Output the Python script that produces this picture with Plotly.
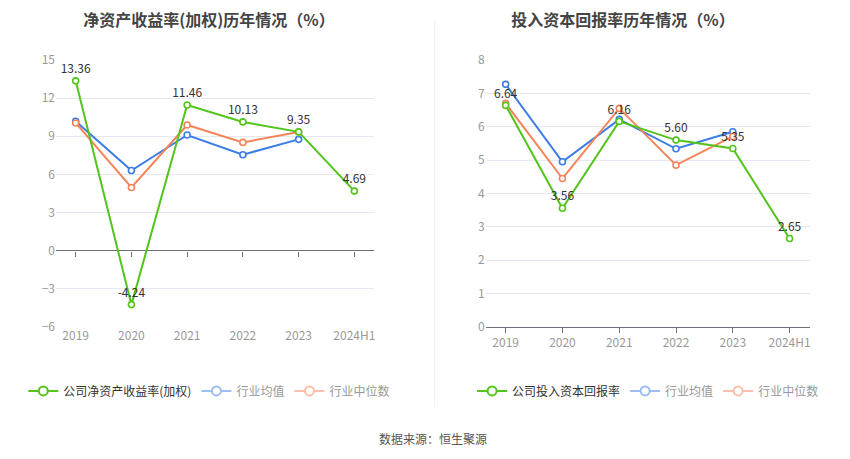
import plotly.graph_objs as go

years = ['2019', '2020', '2021', '2022', '2023', '2024H1']

# 净资产收益率(加权)
roe_company = [13.36, -4.24, 11.46, 10.13, 9.35, 4.69]
roe_avg = [10.18, 6.31, 9.10, 7.55, 8.76]
roe_median = [10.05, 4.97, 9.89, 8.52, 9.34]

# 投入资本回报率
roic_company = [6.64, 3.56, 6.16, 5.60, 5.35, 2.65]
roic_avg = [7.27, 4.95, 6.22, 5.34, 5.85]
roic_median = [6.70, 4.45, 6.55, 4.85, 5.71]

GREEN = '#52C41A'
BLUE = '#3B7CE6'
ORANGE = '#F5845B'
FONT = 'Noto Sans CJK SC'


def line(x, y, color, xa, ya, labels=False):
    return go.Scatter(
        x=x, y=y, xaxis=xa, yaxis=ya, showlegend=False, cliponaxis=False,
        mode='lines+markers+text' if labels else 'lines+markers',
        line=dict(color=color, width=2),
        marker=dict(symbol='circle', size=6, color='white', line=dict(color=color, width=1.6)),
        text=[f'{v:.2f}' for v in y] if labels else None,
        textposition='top center', textfont=dict(size=12, color='#333333'),
    )


fig = go.Figure()
fig.add_trace(line(years[:5], roe_avg, BLUE, 'x', 'y'))
fig.add_trace(line(years[:5], roe_median, ORANGE, 'x', 'y'))
fig.add_trace(line(years, roe_company, GREEN, 'x', 'y', labels=True))
fig.add_trace(line(years[:5], roic_avg, BLUE, 'x2', 'y2'))
fig.add_trace(line(years[:5], roic_median, ORANGE, 'x2', 'y2'))
fig.add_trace(line(years, roic_company, GREEN, 'x2', 'y2', labels=True))

# tick marks on the zero line of the left chart
fig.add_trace(go.Scatter(x=years, y=[None] * 6, xaxis='x3', yaxis='y', showlegend=False, hoverinfo='skip'))

# legend entries
legend_items = [
    ('公司净资产收益率(加权)', GREEN, '#333333', 'l'),
    ('行业均值', '#9DBDF3', '#999999', 'l'),
    ('行业中位数', '#F9C0AB', '#999999', 'l'),
    ('公司投入资本回报率', GREEN, '#333333', 'r'),
    ('行业均值', '#9DBDF3', '#999999', 'r'),
    ('行业中位数', '#F9C0AB', '#999999', 'r'),
]
for name, color, tcolor, side in legend_items:
    fig.add_trace(go.Scatter(
        x=[None], y=[None], name=f'<span style="color:{tcolor}">{name}</span>', mode='lines+markers',
        line=dict(color=color, width=2),
        marker=dict(size=9, color='white', line=dict(color=color, width=2)),
        legend='legend' if side == 'l' else 'legend2',
        xaxis='x' if side == 'l' else 'x2', yaxis='y' if side == 'l' else 'y2',
    ))

axis_font = dict(size=12, color='#999999')
grid = '#E3E8F3'

fig.update_layout(
    width=850, height=459,
    paper_bgcolor='white', plot_bgcolor='white',
    margin=dict(l=0, r=0, t=52, b=140, autoexpand=False),
    font=dict(family=FONT, color='#333333'),
    xaxis=dict(domain=[0.0565, 0.4306], type='category', showgrid=False, showline=False,
               ticks='', tickfont=axis_font, anchor='y'),
    yaxis=dict(range=[-6, 15], dtick=3, tick0=0, gridcolor=grid, tickfont=axis_font,
               zeroline=True, zerolinecolor='#6E7079', zerolinewidth=1, ticks='', anchor='x'),
    # zero line of left chart sits at 6/21 of the plot height
    xaxis3=dict(overlaying='x', matches='x', anchor='free', position=6 / 21,
                showticklabels=False, ticks='outside', ticklen=5, tickcolor='#6E7079',
                showgrid=False, showline=False),
    xaxis2=dict(domain=[0.562, 0.943], type='category', showgrid=False, showline=True,
                linecolor='#6E7079', ticks='outside', ticklen=5, tickcolor='#6E7079',
                tickfont=axis_font, anchor='y2'),
    yaxis2=dict(range=[0, 8], dtick=1, gridcolor=grid, tickfont=axis_font, zeroline=False,
                ticks='', anchor='x2', domain=[0, 1]),
    legend=dict(orientation='h', x=0.018, y=-0.185, xanchor='left', yanchor='top',
                font=dict(size=12), itemwidth=30, tracegroupgap=0, bgcolor='rgba(0,0,0,0)'),
    legend2=dict(orientation='h', x=0.546, y=-0.185, xanchor='left', yanchor='top',
                 font=dict(size=12), itemwidth=30, tracegroupgap=0, bgcolor='rgba(0,0,0,0)'),
    annotations=[
        dict(text='<b>净资产收益率(加权)历年情况（%）</b>', x=0.236, y=1, yref='paper', xref='paper',
             xanchor='center', yanchor='bottom', yshift=26, showarrow=False,
             width=330, height=26, align='center', valign='middle',
             font=dict(size=16, color='#444444')),
        dict(text='<b>投入资本回报率历年情况（%）</b>', x=0.724, y=1, yref='paper', xref='paper',
             xanchor='center', yanchor='bottom', yshift=26, showarrow=False,
             width=330, height=26, align='center', valign='middle',
             font=dict(size=16, color='#444444')),
        dict(text='数据来源：恒生聚源', x=0.5, y=0, xref='paper', yref='paper', yshift=-101,
             xanchor='center', yanchor='top', showarrow=False, font=dict(size=12, color='#555555')),
    ],
    shapes=[dict(type='line', xref='paper', yref='paper', x0=0.502, x1=0.502, y0=1.15, y1=-0.3,
                 line=dict(color='#EEEEEE', width=1))],
)

fig.write_html('out.html')
